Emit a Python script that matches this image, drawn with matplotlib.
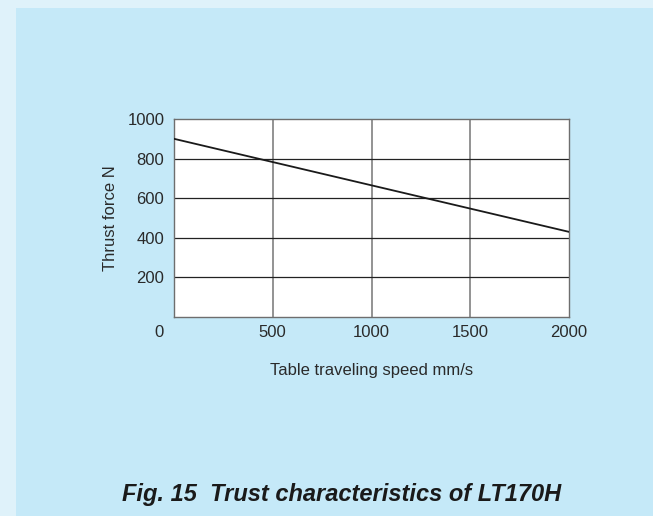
import matplotlib
matplotlib.use('Agg')
from matplotlib import pyplot as plt
from matplotlib.patches import Rectangle

# thrust force vs table speed (straight line between end points)
speed = [0, 2000]
thrust = [900, 430]

x_ticks = [500, 1000, 1500, 2000]
y_ticks = [200, 400, 600, 800, 1000]

plt.rcParams['font.family'] = ['Liberation Sans', 'DejaVu Sans']

W, H = 653, 516
fig = plt.figure(figsize=(W / 100, H / 100), dpi=100)
fig.patch.set_facecolor('#dff2fa')

# inner panel
fig.add_artist(Rectangle((16 / W, 0), 1 - 16 / W, 1 - 8 / H, transform=fig.transFigure,
                         facecolor='#c5e9f8', edgecolor='none', zorder=0))

ax = fig.add_axes([174 / W, 1 - 317 / H, (569 - 174) / W, (317 - 119) / H])
ax.set_facecolor('white')
ax.set_xlim(0, 2000)
ax.set_ylim(0, 1000)

for v in x_ticks[:-1]:
    ax.axvline(v, color='#8a8a8a', lw=1.3, zorder=1)
for v in y_ticks[:-1]:
    ax.axhline(v, color='#222222', lw=0.9, zorder=1)

ax.plot(speed, thrust, color='#1a1a1a', lw=1.3, zorder=3)

for s in ax.spines.values():
    s.set_color('#6e6e6e')
    s.set_linewidth(1.0)

tc = '#2a2a2a'
ax.set_xticks(x_ticks)
ax.set_yticks(y_ticks)
ax.tick_params(length=0, labelsize=12, colors=tc)
ax.tick_params(axis='x', pad=6)
ax.tick_params(axis='y', pad=7)
ax.text(-76, -76, '0', ha='center', va='center', fontsize=12, color=tc)

ax.set_xlabel('Table traveling speed mm/s', fontsize=12, color=tc, labelpad=16)
ax.set_ylabel('Thrust force N', fontsize=12, color=tc, labelpad=7)

fig.text(342 / W, 1 - 494 / H, 'Fig. 15  Trust characteristics of LT170H',
         ha='center', va='center', fontsize=17, fontweight='bold', fontstyle='italic',
         color='#1a1a1a')

fig.savefig('out.png', dpi=100, facecolor=fig.get_facecolor())
